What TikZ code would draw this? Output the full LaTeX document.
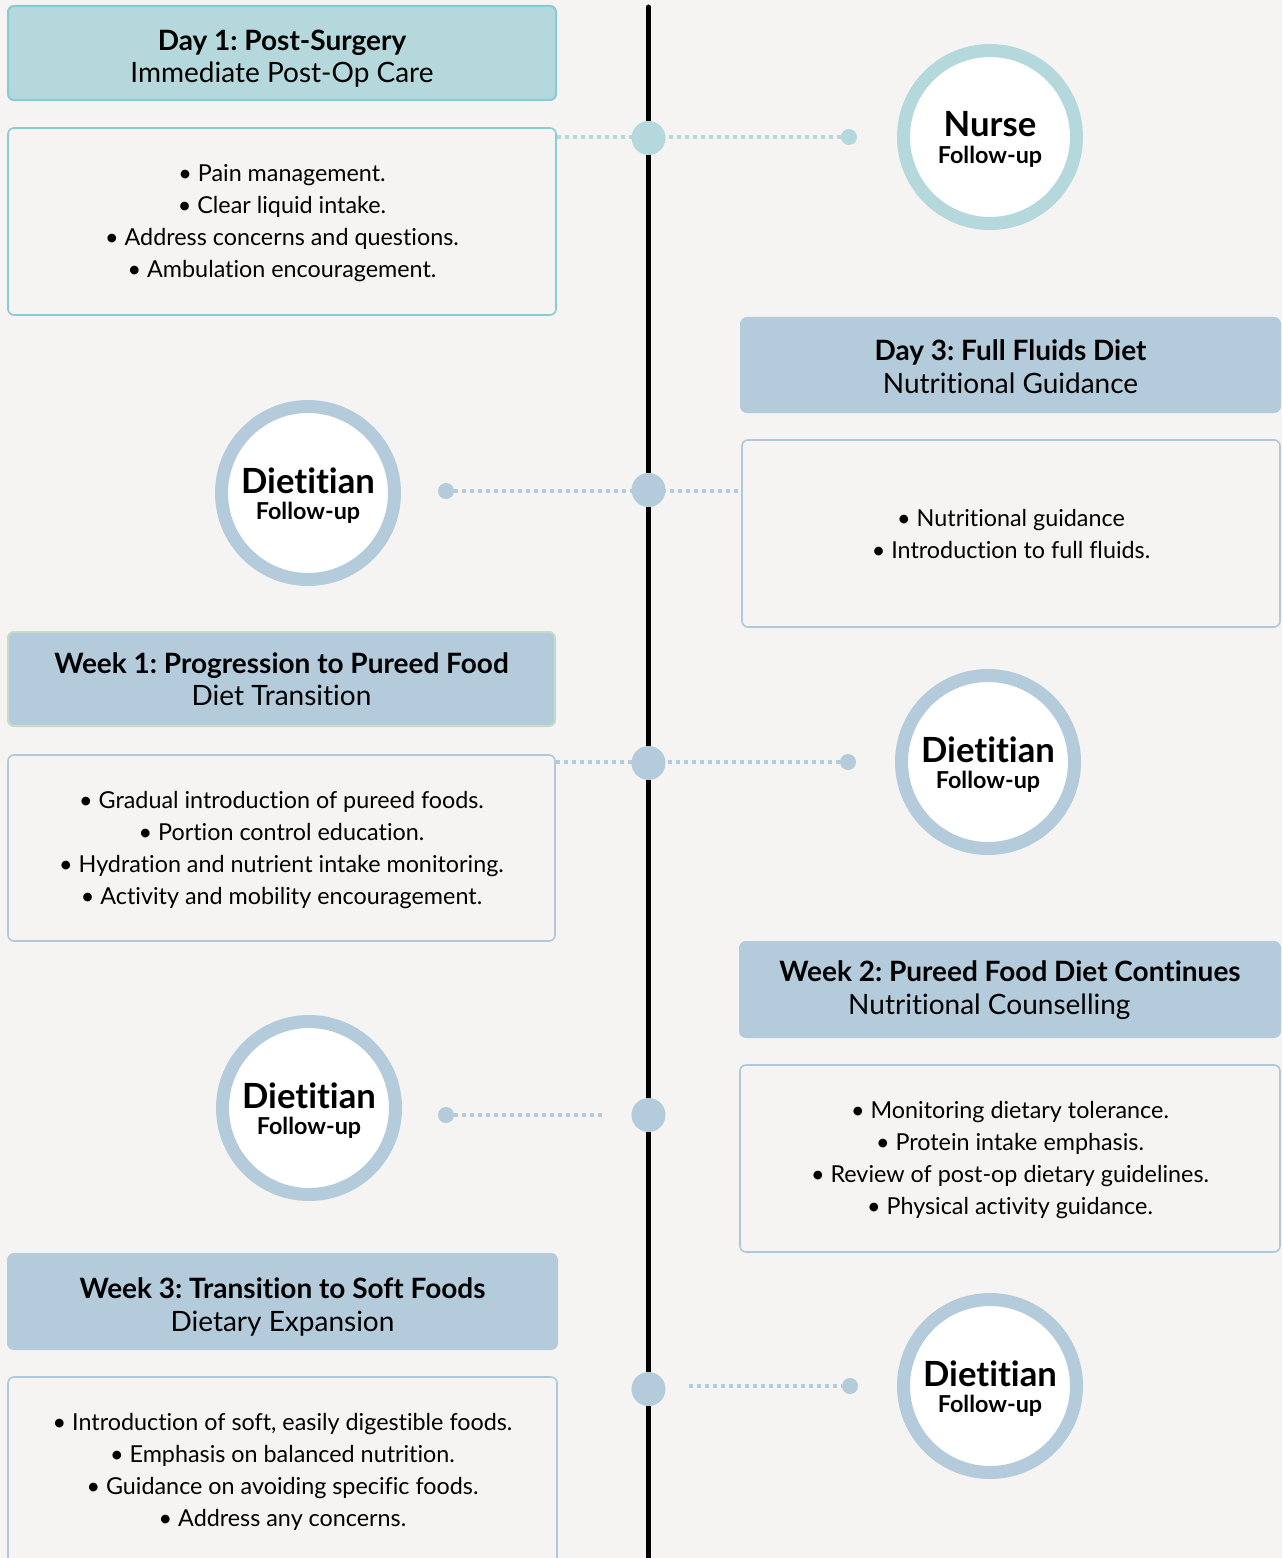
\documentclass[tikz,border=0pt]{standalone}
\usepackage{fontspec}
\setmainfont{Lato}[Ligatures={NoCommon}]
\frenchspacing
\definecolor{bgc}{HTML}{F5F4F2}
\definecolor{tealf}{HTML}{B4D8DB}
\definecolor{tealb}{HTML}{88CBD2}
\definecolor{bluef}{HTML}{B3CBDB}
\definecolor{blueb}{HTML}{AFC8DA}
\definecolor{greenb}{HTML}{C6DCCB}
\tikzset{
  hdr/.style={draw, line width=1.5pt, rounded corners=4.5pt, inner sep=0pt},
  hdrtxt/.style={inner sep=0pt, align=center, font=\fontsize{21}{24.5}\selectfont, text=black},
  bodybox/.style={draw, line width=1.2pt, rounded corners=4.5pt, fill=bgc, inner sep=0pt},
  bodytxt/.style={inner sep=0pt, align=center, font=\fontsize{17.5}{24}\selectfont, text=black},
  bigdot/.style={circle, inner sep=0pt, minimum size=25.5pt},
  smalldot/.style={circle, inner sep=0pt, minimum size=12pt},
  ring/.style={circle, draw, line width=9.75pt, fill=white, inner sep=0pt, minimum size=129.75pt},
  ringtxt/.style={inner sep=0pt, align=center, font=\fontsize{17.5}{20}\selectfont\bfseries, text=black},
  dotline/.style={line width=3pt, dash pattern=on 3pt off 3pt}
}
\newcommand{\circtxt}[1]{{\fontsize{26}{20}\selectfont #1}\\Follow-up}
\begin{document}
\begin{tikzpicture}[x=0.75pt, y=-0.75pt]
\fill[bgc] (0,0) rectangle (1282,1558);
\useasboundingbox (0,0) rectangle (1282,1558);
\begin{scope}
\clip (0,0) rectangle (1282,1558);
% timeline
\coordinate (ttop) at (648.5,7);
\coordinate (tbot) at (648.5,1570);
\draw[line width=3.75pt, line cap=round] (ttop) -- (tbot);

% headers and bodies
\node[hdr, fill=tealf, draw=tealb, minimum width=411pt, minimum height=70.5pt] (h1) at (282,53) {};
\node[hdrtxt] (h1t) at (h1.center |- 0,58.7) {\textbf{Day 1: Post-Surgery}\\Immediate Post-Op Care};
\node[bodybox, draw=tealb, minimum width=411pt, minimum height=140.25pt] (b1) at (282,221.5) {};
\node[bodytxt] (b1t) at ([yshift=-1.5pt]b1.center)
  {• Pain management.\\• Clear liquid intake.\\• Address concerns and questions.\\• Ambulation encouragement.};

\node[hdr, fill=bluef, draw=bluef, minimum width=404.25pt, minimum height=70.5pt] (h2) at (1010.5,365) {};
\node[hdrtxt] (h2t) at (h2.center |- 0,366.7) {\textbf{Day 3: Full Fluids Diet}\\Nutritional Guidance};
\node[bodybox, draw=blueb, minimum width=403.5pt, minimum height=140.25pt] (b2) at (1011,533.5) {};
\node[bodytxt] (b2t) at ([yshift=0pt]b2.center) {• Nutritional guidance\\• Introduction to full fluids.};

\node[hdr, fill=bluef, draw=greenb, minimum width=410.25pt, minimum height=70.5pt] (h3) at (281.5,679) {};
\node[hdrtxt] (h3t) at (h3.center |- 0,679.2) {\textbf{Week 1: Progression to Pureed Food}\\Diet Transition};
\node[bodybox, draw=blueb, minimum width=410.25pt, minimum height=139.5pt] (b3) at (281.5,848) {};
\node[bodytxt] (b3t) at ([yshift=-1.5pt]b3.center)
  {• Gradual introduction of pureed foods.\\• Portion control education.\\• Hydration and nutrient intake monitoring.\\• Activity and mobility encouragement.};

\node[hdr, fill=bluef, draw=bluef, minimum width=405pt, minimum height=71.25pt] (h4) at (1010,989.5) {};
\node[hdrtxt] (h4t) at (h4.center |- 0,990.2) {\textbf{Week 2: Pureed Food Diet Continues}\\\hspace*{-31pt}Nutritional Counselling};
\node[bodybox, draw=blueb, minimum width=405pt, minimum height=140.25pt] (b4) at (1010,1158.5) {};
\node[bodytxt] (b4t) at ([yshift=-1.5pt]b4.center)
  {• Monitoring dietary tolerance.\\• Protein intake emphasis.\\• Review of post-op dietary guidelines.\\• Physical activity guidance.};

\node[hdr, fill=bluef, draw=bluef, minimum width=411.75pt, minimum height=71.25pt] (h5) at (282.5,1301.5) {};
\node[hdrtxt] (h5t) at (h5.center |- 0,1307.2) {\textbf{Week 3: Transition to Soft Foods}\\Dietary Expansion};
\node[bodybox, draw=blueb, minimum width=411.75pt, minimum height=140.25pt] (b5) at (282.5,1470.5) {};
\node[bodytxt] (b5t) at ([yshift=-0.8pt]b5.center)
  {• Introduction of soft, easily digestible foods.\\• Emphasis on balanced nutrition.\\• Guidance on avoiding specific foods.\\• Address any concerns.};

% small dots and coordinates
\node[smalldot, fill=tealf] (s1) at (849,137) {};
\node[smalldot, fill=bluef] (s2) at (446,491) {};
\node[smalldot, fill=bluef] (s3) at (848,762) {};
\node[smalldot, fill=bluef] (s4) at (446,1115) {};
\node[smalldot, fill=bluef] (s5) at (850,1386) {};
\coordinate (e4) at (606,1115);
\coordinate (e5) at (689,1386);

% dotted connectors
\draw[dotline, tealf] (b1.east |- s1) -- (s1);
\draw[dotline, bluef] (s2) -- (b2.west |- s2);
\draw[dotline, bluef] (b3.east |- s3) -- (s3);
\draw[dotline, bluef] (s4) -- (e4);
\draw[dotline, bluef] (e5) -- (s5);

% timeline dots
\node[bigdot, fill=tealf] (d1) at (648.5,138) {};
\node[bigdot, fill=bluef] (d2) at (648.5,490) {};
\node[bigdot, fill=bluef] (d3) at (648.5,763) {};
\node[bigdot, fill=bluef] (d4) at (648.5,1115) {};
\node[bigdot, fill=bluef] (d5) at (648.5,1389) {};

% rings
\node[ring, draw=tealf] (c1) at (990,137) {};
\node[ring, draw=bluef] (c2) at (308,493) {};
\node[ring, draw=bluef] (c3) at (988,762) {};
\node[ring, draw=bluef] (c4) at (309,1108) {};
\node[ring, draw=bluef] (c5) at (990,1386) {};
\node[ringtxt] (c1t) at ([yshift=-2pt]c1.center) {\circtxt{Nurse}};
\node[ringtxt] (c2t) at ([yshift=-2pt]c2.center) {\circtxt{Dietitian}};
\node[ringtxt] (c3t) at ([yshift=-2pt]c3.center) {\circtxt{Dietitian}};
\node[ringtxt] (c4t) at ([yshift=-2pt]c4.center) {\circtxt{Dietitian}};
\node[ringtxt] (c5t) at ([yshift=-2pt]c5.center) {\circtxt{Dietitian}};
\end{scope}
\end{tikzpicture}
\end{document}
